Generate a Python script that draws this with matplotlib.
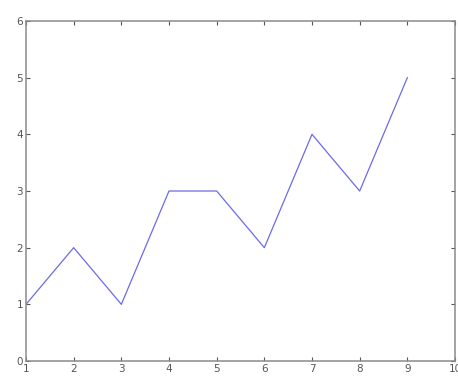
import matplotlib
matplotlib.use("Agg")
import matplotlib.pyplot as plt

x = [1, 2, 3, 4, 5, 6, 7, 8, 9]
y = [1, 2, 1, 3, 3, 2, 4, 3, 5]
xticks = [1, 2, 3, 4, 5, 6, 7, 8, 9, 10]
yticks = [0, 1, 2, 3, 4, 5, 6]

fig = plt.figure(figsize=(4.58, 3.76), dpi=100)
ax = fig.add_axes([26 / 458, 15 / 376, 429 / 458, 340 / 376])
ax.plot(x, y, color="#6b6be6", linewidth=0.9)
ax.set_xlim(1, 10)
ax.set_ylim(0, 6)
ax.set_xticks(xticks)
ax.set_yticks(yticks)
ax.tick_params(direction="in", length=3, width=0.8, colors="#555555",
               labelsize=7.5, top=True, right=True, pad=2)
for s in ax.spines.values():
    s.set_color("#8a8a8a")
    s.set_linewidth(1.1)
fig.savefig("out.png", dpi=100)
